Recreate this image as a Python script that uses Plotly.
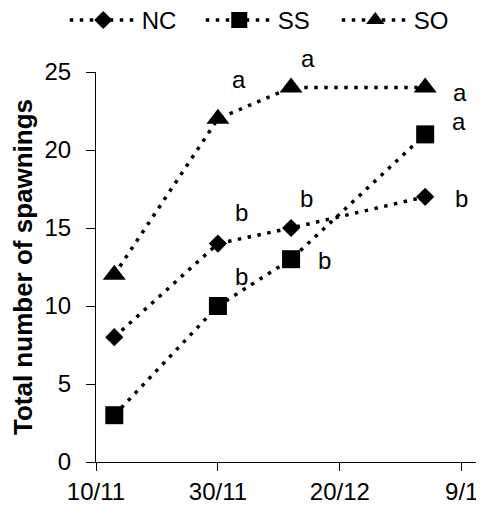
import plotly.graph_objects as go

dates = ["2012-11-13", "2012-11-30", "2012-12-12", "2013-01-03"]
nc = [8, 14, 15, 17]
ss = [3, 10, 13, 21]
so = [12, 22, 24, 24]
nc_labels = ["", "b", "b", "b"]
ss_labels = ["", "b", "b", "a"]
so_labels = ["", "a", "a", "a"]
tick_vals = ["2012-11-10", "2012-11-30", "2012-12-20", "2013-01-09"]
tick_text = ["10/11", "30/11", "20/12", "9/1"]

FONT = "Liberation Sans, Arial, sans-serif"
fig = go.Figure()
series = [("NC", nc, "diamond", 14), ("SS", ss, "square", 18), ("SO", so, "triangle-up", 20)]
for name, vals, sym, sz in series:
    fig.add_trace(go.Scatter(
        x=dates, y=vals, name=name, mode="lines+markers",
        line=dict(color="black", width=3.5, dash="3.5px,6.5px"),
        marker=dict(symbol=sym, size=sz, color="black"),
    ))

# letter annotations: (labels, values, offsets per point)
ann_specs = [
    (so_labels, so, [(0, 0), (21, 39), (17, 29), (35, -5)]),
    (ss_labels, ss, [(0, 0), (24, 30), (33, -1), (34, 13)]),
    (nc_labels, nc, [(0, 0), (24, 31), (15, 30), (36, -2)]),
]
for labels, vals, offs in ann_specs:
    for d, v, t, (dx, dy) in zip(dates, vals, labels, offs):
        if t:
            fig.add_annotation(x=d, y=v, text=t, showarrow=False,
                               xshift=dx, yshift=dy,
                               font=dict(family=FONT, size=24, color="black"))

# page body has an 8px margin in the viewer, so the figure is drawn 8px smaller
fig.update_layout(
    width=476, height=503,
    margin=dict(l=88, r=7, t=64, b=49, autoexpand=False),
    plot_bgcolor="white", paper_bgcolor="white",
    font=dict(family=FONT, size=24, color="black"),
    showlegend=True,
    legend=dict(orientation="h", x=-0.082, xanchor="left",
                y=1.19, yanchor="top",
                font=dict(size=24), itemwidth=67,
                entrywidth=54, entrywidthmode="pixels",
                bgcolor="rgba(0,0,0,0)"),
    xaxis=dict(type="date", range=["2012-11-10", "2013-01-11 12:00"],
               tickvals=tick_vals, ticktext=tick_text, automargin=False,
               showline=True, linecolor="black", linewidth=1,
               ticks="outside", ticklen=8, tickcolor="black",
               showgrid=False, zeroline=False,
               tickfont=dict(size=24)),
    yaxis=dict(range=[0, 25], dtick=5, showline=True, linecolor="black", linewidth=1,
               ticks="outside", ticklen=9, tickcolor="black", automargin=False,
               ticklabelstandoff=10,
               showgrid=False, zeroline=False, tickfont=dict(size=24),
               title=dict(text="<b>Total number of spawnings</b>", font=dict(size=26), standoff=5)),
)
fig.write_html("out.html")
